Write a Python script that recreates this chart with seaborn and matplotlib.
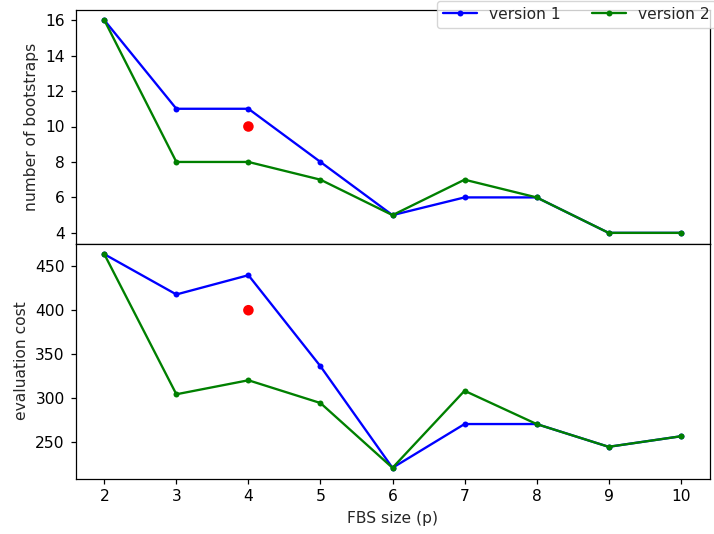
import matplotlib
matplotlib.use("Agg")
import matplotlib.pyplot as plt
from matplotlib.lines import Line2D
import seaborn as sns
import pandas as pd

fbs_size = [2, 3, 4, 5, 6, 7, 8, 9, 10]
boot_v1 = [16, 11, 11, 8, 5, 6, 6, 4, 4]
boot_v2 = [16, 8, 8, 7, 5, 7, 6, 4, 4]
cost_v1 = [464, 418, 440, 336, 220, 270, 270, 244, 256]
cost_v2 = [464, 304, 320, 294, 220, 308, 270, 244, 256]
ref_x = [4]
ref_boot = [10]
ref_cost = [400]
series_labels = ['version 1', 'version 2']

S = 1.115  # scale of original (default 6.4x4.8 figure at ~111.5 dpi)

sns.set_style("white")
plt.rcParams['font.family'] = ['DejaVu Sans']
plt.rcParams['font.size'] = 10 * S

fig = plt.figure(figsize=(7.14, 5.34), dpi=100)
L, R = 75.5 / 714, 709.5 / 714
top_y, mid_y, bot_y = 1 - 9.5 / 534, 1 - 243.5 / 534, 1 - 478.5 / 534
ax1 = fig.add_axes([L, mid_y, R - L, top_y - mid_y])
ax2 = fig.add_axes([L, bot_y, R - L, mid_y - bot_y], sharex=ax1)

df = pd.DataFrame({"p": fbs_size, "b1": boot_v1, "b2": boot_v2, "c1": cost_v1, "c2": cost_v2})

c1, c2 = '#0000ff', '#008000'
kw = dict(marker='o', markersize=4.3, markeredgewidth=0, linewidth=1.5 * S, legend=False)
sns.lineplot(data=df, x="p", y="b1", ax=ax1, color=c1, **kw)
sns.lineplot(data=df, x="p", y="b2", ax=ax1, color=c2, **kw)
sns.scatterplot(x=ref_x, y=ref_boot, ax=ax1, color='#ff0000', s=7.6 ** 2, edgecolor='none', zorder=3, legend=False)

sns.lineplot(data=df, x="p", y="c1", ax=ax2, color=c1, **kw)
sns.lineplot(data=df, x="p", y="c2", ax=ax2, color=c2, **kw)
sns.scatterplot(x=ref_x, y=ref_cost, ax=ax2, color='#ff0000', s=7.6 ** 2, edgecolor='none', zorder=3, legend=False)

ax1.set_ylabel("number of bootstraps", fontsize=10 * S, labelpad=4 * S)
ax2.set_ylabel("evaluation cost", fontsize=10 * S, labelpad=4 * S)
ax1.set_xlabel("")
ax2.set_xlabel("FBS size (p)", fontsize=10 * S, labelpad=4 * S)
ax1.set_yticks([4, 6, 8, 10, 12, 14, 16])
ax2.set_yticks([250, 300, 350, 400, 450])
ax2.set_xticks(fbs_size)
ax1.tick_params(axis='x', bottom=False, labelbottom=False)
for ax in (ax1, ax2):
    ax.tick_params(axis='both', direction='out', length=3.5 * S, width=0.8 * S,
                   labelsize=10 * S, color='black', labelcolor='black', pad=3.5 * S)
    ax.tick_params(axis='y', left=True)
    for s in ax.spines.values():
        s.set_color('black')
        s.set_linewidth(0.8 * S)
ax2.tick_params(axis='x', bottom=True)

handles = [Line2D([], [], color=c, marker='o', markersize=4.3, markeredgewidth=0, linewidth=1.5 * S)
           for c in (c1, c2)]
fig.legend(handles, series_labels, loc='upper left', ncol=2, bbox_to_anchor=(436.5 / 714, 1 - 0.5 / 534),
           bbox_transform=fig.transFigure, borderaxespad=0, fontsize=10 * S, frameon=True,
           edgecolor='#cccccc', handlelength=2.2)

fig.savefig("out.png", dpi=100)
